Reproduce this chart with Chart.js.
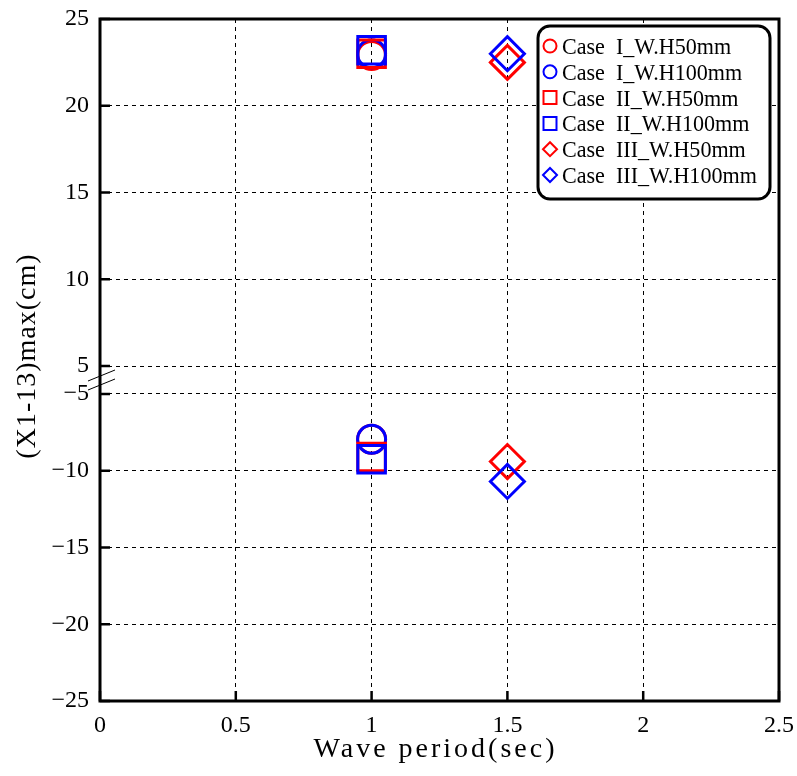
<!DOCTYPE html>
<html>
<head>
<meta charset="utf-8">
<title>(X1-13)max vs wave period</title>
<script src="https://cdn.jsdelivr.net/npm/chart.js@4/dist/chart.umd.min.js"></script>
<style>
  html, body { margin: 0; padding: 0; background: #fff; }
  canvas { display: block; }
</style>
</head>
<body>
<canvas id="chart" width="797" height="776"></canvas>
<script>
// --- data ---
const caseLabels = [
    'Case  I_W.H50mm', 'Case  I_W.H100mm',
    'Case  II_W.H50mm', 'Case  II_W.H100mm',
    'Case  III_W.H50mm', 'Case  III_W.H100mm'
];
const caseColors = ['#ff0000', '#0000ff', '#ff0000', '#0000ff', '#ff0000', '#0000ff'];
const caseMarkers = ['circle', 'circle', 'rect', 'rect', 'rectRot', 'rectRot'];
const wavePeriods = [1, 1, 1, 1, 1.5, 1.5];
const upperValues = [22.9, 23.0, 23.0, 23.2, 22.5, 23.0];
const lowerValues = [-7.95, -7.95, -9.1, -9.25, -9.4, -10.7];

const xTicks = [0, 0.5, 1, 1.5, 2, 2.5];
const yTicks = [-25, -20, -15, -10, -5, 5, 10, 15, 20, 25];

// broken y axis: [-25,-5] below, [5,25] above, small gap in between
const LOW_K = 15.35, HIGH_K = 17.35, GAP = 28;
const LOW_TOP = 20 * LOW_K;
const AXIS_MAX = LOW_TOP + GAP + 20 * HIGH_K;
function toAxis(v) {
    return v < 0 ? (v + 25) * LOW_K : LOW_TOP + GAP + (v - 5) * HIGH_K;
}

const SERIF = '"Liberation Serif", "DejaVu Serif", serif';
const markerRadius = { circle: 14, rect: 19.5, rectRot: 17 };

const datasets = caseLabels.map((label, i) => ({
    label,
    data: [
        { x: wavePeriods[i], y: toAxis(upperValues[i]) },
        { x: wavePeriods[i], y: toAxis(lowerValues[i]) }
    ],
    pointStyle: caseMarkers[i],
    pointRadius: markerRadius[caseMarkers[i]],
    borderColor: caseColors[i],
    backgroundColor: 'rgba(0,0,0,0)',
    pointBorderWidth: 3,
    order: -i
}));

function legendMarker(ctx, style, x, y, color) {
    ctx.save();
    ctx.strokeStyle = color;
    ctx.lineWidth = 2;
    ctx.beginPath();
    if (style === 'circle') {
        ctx.arc(x, y, 6.5, 0, Math.PI * 2);
    } else if (style === 'rect') {
        ctx.rect(x - 6.5, y - 6.5, 13, 13);
    } else {
        ctx.moveTo(x - 7, y); ctx.lineTo(x, y - 7); ctx.lineTo(x + 7, y); ctx.lineTo(x, y + 7); ctx.closePath();
    }
    ctx.stroke();
    ctx.restore();
}

const decorations = {
    id: 'decorations',
    afterDraw(chart) {
        const { ctx, chartArea: a, scales } = chart;
        const xs = scales.x, ys = scales.y;
        ctx.save();

        // inward ticks
        ctx.strokeStyle = '#000';
        ctx.lineWidth = 2.5;
        ctx.beginPath();
        yTicks.forEach(v => {
            const py = ys.getPixelForValue(toAxis(v));
            ctx.moveTo(a.left, py); ctx.lineTo(a.left + 10, py);
        });
        xTicks.forEach(v => {
            const px = xs.getPixelForValue(v);
            ctx.moveTo(px, a.bottom); ctx.lineTo(px, a.bottom - 10);
        });
        ctx.stroke();

        // frame
        ctx.lineWidth = 3;
        ctx.strokeRect(a.left, a.top, a.right - a.left, a.bottom - a.top);

        // break marks on the y axis
        const midY = (ys.getPixelForValue(toAxis(5)) + ys.getPixelForValue(toAxis(-5))) / 2;
        ctx.lineWidth = 1;
        ctx.beginPath();
        [-4.5, 4.5].forEach(off => {
            ctx.moveTo(a.left - 12, midY + off + 5.5);
            ctx.lineTo(a.left + 15, midY + off - 5.5);
        });
        ctx.stroke();

        // axis titles
        ctx.fillStyle = '#000';
        ctx.font = '28px ' + SERIF;
        ctx.textAlign = 'center';
        ctx.textBaseline = 'alphabetic';
        ctx.letterSpacing = '3px';
        ctx.fillText('Wave period(sec)', (a.left + a.right) / 2 - 4, 757);
        ctx.save();
        ctx.translate(35, 356);
        ctx.rotate(-Math.PI / 2);
        ctx.letterSpacing = '1px';
        ctx.fillText('(X1-13)max(cm)', 0, 0);
        ctx.restore();
        ctx.letterSpacing = '0px';

        // legend
        const box = { x: 538, y: 26, w: 232, h: 173 };
        ctx.beginPath();
        ctx.roundRect(box.x, box.y, box.w, box.h, 12);
        ctx.fillStyle = '#fff';
        ctx.fill();
        ctx.lineWidth = 3;
        ctx.strokeStyle = '#000';
        ctx.stroke();
        caseLabels.forEach((label, i) => {
            const cy = 46 + i * 25.8;
            legendMarker(ctx, caseMarkers[i], 550, cy, caseColors[i]);
            ctx.save();
            ctx.translate(562, cy + 8);
            ctx.scale(0.92, 1);
            ctx.fillStyle = '#000';
            ctx.font = '24px ' + SERIF;
            ctx.textAlign = 'left';
            ctx.fillText(label, 0, 0);
            ctx.restore();
        });

        ctx.restore();
    }
};

new Chart(document.getElementById('chart'), {
    type: 'scatter',
    data: { datasets },
    plugins: [decorations],
    options: {
        responsive: false,
        animation: false,
        events: [],
        layout: { autoPadding: false, padding: { left: 52, right: 18, top: 19, bottom: 36 } },
        plugins: { legend: { display: false }, tooltip: { enabled: false } },
        scales: {
            x: {
                type: 'linear',
                min: 0,
                max: 2.5,
                afterBuildTicks: scale => { scale.ticks = xTicks.map(v => ({ value: v })); },
                afterFit: scale => { scale.height = 39; scale.paddingLeft = 0; scale.paddingRight = 0; },
                ticks: {
                    color: '#000',
                    font: { family: SERIF, size: 24 },
                    padding: 10,
                    maxRotation: 0,
                    callback: v => String(v)
                },
                grid: { color: '#000', lineWidth: 1, drawTicks: false },
                border: { display: false, dash: [4, 4] }
            },
            y: {
                type: 'linear',
                min: 0,
                max: AXIS_MAX,
                afterBuildTicks: scale => { scale.ticks = yTicks.map(v => ({ value: toAxis(v) })); },
                afterFit: scale => { scale.width = 48; scale.paddingTop = 0; scale.paddingBottom = 0; },
                ticks: {
                    color: '#000',
                    font: { family: SERIF, size: 24 },
                    padding: 11,
                    callback: (value, index) => String(yTicks[index]).replace('-', '\u2212')
                },
                grid: { color: '#000', lineWidth: 1, drawTicks: false },
                border: { display: false, dash: [4, 4] }
            }
        }
    }
});
</script>
</body>
</html>
